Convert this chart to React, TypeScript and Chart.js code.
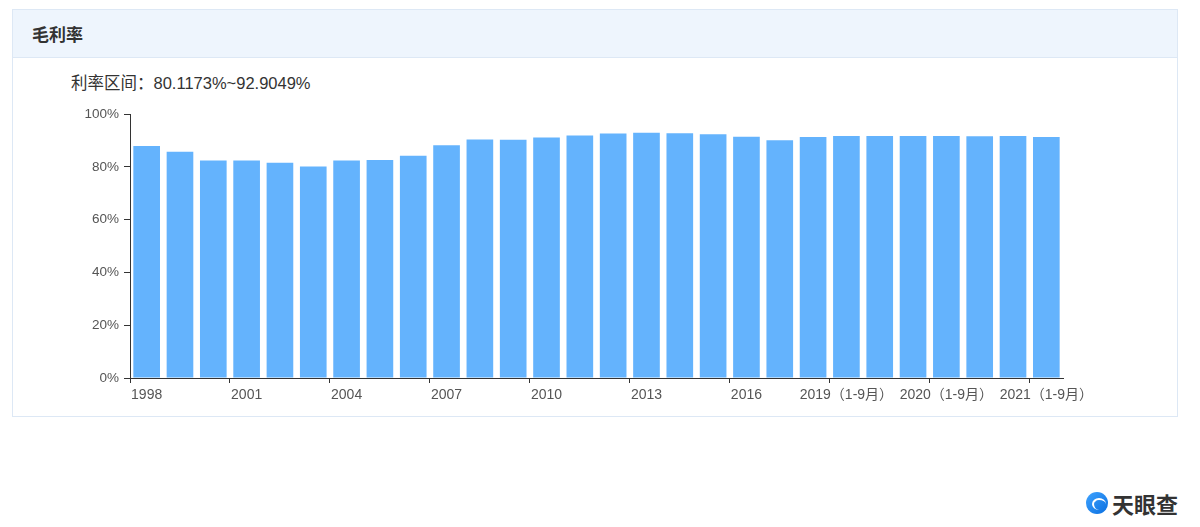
import React, { useEffect, useRef } from "react";
import { Chart, registerables } from "chart.js";

Chart.register(...registerables);

const categories: string[] = [
  "1998", "1999", "2000", "2001", "2002", "2003", "2004", "2005", "2006", "2007",
  "2008", "2009", "2010", "2011", "2012", "2013", "2014", "2015", "2016", "2017",
  "2018", "2019（1-9月）", "2019", "2020（1-6月）", "2020（1-9月）", "2020", "2021（1-6月）", "2021（1-9月）",
];

const grossMargin: number[] = [
  87.9, 85.7, 82.4, 82.4, 81.5, 80.1173, 82.4, 82.6, 84.2, 88.2,
  90.3, 90.2, 91.1, 91.9, 92.6, 92.9049, 92.7, 92.3, 91.4, 90.1,
  91.3, 91.7, 91.7, 91.7, 91.7, 91.6, 91.7, 91.3,
];

const yTicks: number[] = [0, 20, 40, 60, 80, 100];

const title = "毛利率";
const rangeLabel = "利率区间：80.1173%~92.9049%";

const FONT = "'Liberation Sans', 'Noto Sans CJK SC', sans-serif";

function BarChart() {
  const ref = useRef<HTMLCanvasElement | null>(null);
  useEffect(() => {
    if (!ref.current) return;
    const chart = new Chart(ref.current, {
      type: "bar",
      data: {
        labels: categories,
        datasets: [
          {
            label: title,
            data: grossMargin,
            backgroundColor: "#64b3fd",
            borderWidth: 0,
            categoryPercentage: 0.8,
            barPercentage: 1,
          },
        ],
      },
      options: {
        animation: false,
        responsive: false,
        maintainAspectRatio: false,
        layout: { padding: { top: 14, left: 0, right: 37, bottom: 0 } },
        plugins: { legend: { display: false }, tooltip: { enabled: false } },
        scales: {
          x: {
            offset: true,
            grid: {
              offset: true,
              drawOnChartArea: false,
              drawTicks: true,
              tickLength: 5,
              color: (ctx: any) => (ctx.index % 3 === 0 ? "#333" : "rgba(0,0,0,0)"),
            },
            border: { display: true, color: "#333", width: 1 },
            ticks: {
              autoSkip: false,
              maxRotation: 0,
              minRotation: 0,
              padding: 4,
              color: "#555",
              font: { size: 14, family: FONT },
              callback: (_v: any, i: number) => (i % 3 === 0 ? categories[i] : ""),
            },
            afterFit: (s: any) => {
              s.height = 42;
            },
          },
          y: {
            min: 0,
            max: 100,
            afterBuildTicks: (s: any) => {
              s.ticks = yTicks.map((v) => ({ value: v }));
            },
            grid: {
              drawOnChartArea: false,
              drawTicks: true,
              tickLength: 6,
              color: "#333",
            },
            border: { display: true, color: "#333", width: 1 },
            ticks: {
              padding: 5,
              color: "#555",
              font: { size: 13.5, family: FONT },
              callback: (v: any) => `${v}%`,
            },
            afterFit: (s: any) => {
              s.width = 130;
            },
          },
        },
      },
    });
    return () => chart.destroy();
  }, []);
  return <canvas ref={ref} width={1100} height={320} style={{ display: "block" }} />;
}

export default function App() {
  return (
    <div
      style={{
        position: "absolute",
        left: 0,
        top: 0,
        width: 1200,
        height: 527,
        background: "#fff",
        overflow: "hidden",
        fontFamily: FONT,
      }}
    >
      <div
        style={{
          position: "absolute",
          left: 12,
          top: 9,
          width: 1164,
          height: 406,
          border: "1px solid #dde8f5",
          background: "#fff",
        }}
      >
        <div
          style={{
            height: 47,
            background: "#eef5fd",
            borderBottom: "1px solid #dde8f5",
            display: "flex",
            alignItems: "center",
            paddingLeft: 19,
            fontSize: 17,
            fontWeight: 700,
            color: "#333",
            fontFamily: "'Noto Sans CJK SC', sans-serif",
          }}
        >
          {title}
        </div>
      </div>
      <div
        style={{
          position: "absolute",
          left: 71,
          top: 72,
          fontSize: 16.5,
          color: "#333",
          lineHeight: "22px",
          whiteSpace: "nowrap",
        }}
      >
        {rangeLabel}
      </div>
      <div style={{ position: "absolute", left: 0, top: 100 }}>
        <BarChart />
      </div>
      <div
        style={{
          position: "absolute",
          left: 1086,
          top: 489,
          display: "flex",
          alignItems: "center",
          gap: 4,
        }}
      >
        <div
          style={{
            width: 22,
            height: 22,
            borderRadius: "50%",
            background: "linear-gradient(135deg, #3fa3ff, #0a6fe0)",
            position: "relative",
          }}
        >
          <div
            style={{
              position: "absolute",
              left: 6,
              top: 6,
              width: 12,
              height: 10,
              borderRadius: "50%",
              borderTop: "2px solid #fff",
              borderLeft: "2px solid #fff",
            }}
          />
        </div>
        <div
          style={{
            fontSize: 22,
            fontWeight: 700,
            color: "#333",
            fontFamily: "'Noto Sans CJK SC', sans-serif",
            lineHeight: "28px",
          }}
        >
          天眼查
        </div>
      </div>
    </div>
  );
}
